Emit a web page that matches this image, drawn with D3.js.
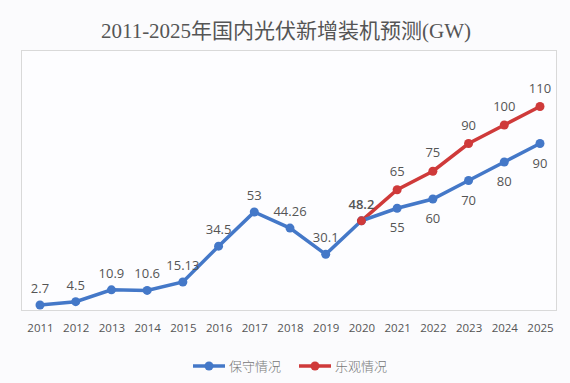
<!DOCTYPE html>
<html>
<head>
<meta charset="utf-8">
<script src="https://cdn.jsdelivr.net/npm/d3@7"></script>
<style>
  body { margin: 0; background: #fbfbfd; }
</style>
</head>
<body>
<div id="chart"></div>
<script>
const years = ["2011","2012","2013","2014","2015","2016","2017","2018","2019","2020","2021","2022","2023","2024","2025"];
const conservative = [2.7, 4.5, 10.9, 10.6, 15.13, 34.5, 53, 44.26, 30.1, 48.2, 55, 60, 70, 80, 90];
const optimisticYears = ["2020","2021","2022","2023","2024","2025"];
const optimistic = [48.2, 65, 75, 90, 100, 110];
const seriesNames = ["保守情况", "乐观情况"];

const width = 570, height = 383;
const blue = "#4478c8", red = "#cf3a3a";

const svg = d3.select("#chart").append("svg")
    .attr("width", width)
    .attr("height", height);

svg.append("text")
    .attr("x", width / 2 + 1)
    .attr("y", 38)
    .attr("text-anchor", "middle")
    .attr("font-family", "'Liberation Serif', 'Noto Sans CJK SC', serif")
    .attr("font-size", 21)
    .attr("fill", "#555")
    .text("2011-2025年国内光伏新增装机预测(GW)");

// plot frame
svg.append("rect")
    .attr("x", 21.5).attr("y", 50.5)
    .attr("width", 535).attr("height", 260)
    .attr("fill", "#fdfdff")
    .attr("stroke", "#d9d9d9");

const x = d3.scalePoint().domain(years).range([40, 540]);
const y = d3.scaleLinear().domain([0, 140]).range([310, 51]);

const xAxis = svg.append("g")
    .attr("transform", "translate(0,310)")
    .call(d3.axisBottom(x).tickSize(0).tickPadding(14));
xAxis.select(".domain").remove();
xAxis.selectAll("text")
    .attr("font-family", "'Open Sans', sans-serif")
    .attr("font-size", 11.5)
    .attr("fill", "#555");

const line = d3.line().x(d => x(d[0])).y(d => y(d[1]));

const blueData = years.map((yr, i) => [yr, conservative[i]]);
const redData = optimisticYears.map((yr, i) => [yr, optimistic[i]]);

svg.append("path")
    .datum(redData)
    .attr("d", line)
    .attr("fill", "none")
    .attr("stroke", red)
    .attr("stroke-width", 3.5);

svg.append("path")
    .datum(blueData)
    .attr("d", line)
    .attr("fill", "none")
    .attr("stroke", blue)
    .attr("stroke-width", 3.5);

svg.selectAll("circle.red")
    .data(redData.slice(1))
    .enter().append("circle")
    .attr("class", "red")
    .attr("cx", d => x(d[0]))
    .attr("cy", d => y(d[1]))
    .attr("r", 4.5)
    .attr("fill", red);

svg.selectAll("circle.blue")
    .data(blueData)
    .enter().append("circle")
    .attr("class", "blue")
    .attr("cx", d => x(d[0]))
    .attr("cy", d => y(d[1]))
    .attr("r", 4.5)
    .attr("fill", blue);

// 2020 point where both series meet is red on top
svg.append("circle")
    .attr("cx", x(redData[0][0]))
    .attr("cy", y(redData[0][1]))
    .attr("r", 4.5)
    .attr("fill", red);

const labelFont = "'Open Sans', sans-serif";

svg.selectAll("text.blab")
    .data(blueData)
    .enter().append("text")
    .attr("class", "blab")
    .attr("x", d => x(d[0]))
    .attr("y", d => +d[0] > 2020 ? y(d[1]) + 24 : y(d[1]) - 12)
    .attr("text-anchor", "middle")
    .attr("font-family", labelFont)
    .attr("font-size", 13)
    .attr("font-weight", d => d[0] === "2020" ? 600 : "normal")
    .attr("fill", "#555")
    .text(d => d[1]);

svg.selectAll("text.rlab")
    .data(redData.slice(1))
    .enter().append("text")
    .attr("class", "rlab")
    .attr("x", d => x(d[0]))
    .attr("y", d => y(d[1]) - 14)
    .attr("text-anchor", "middle")
    .attr("font-family", labelFont)
    .attr("font-size", 13)
    .attr("fill", "#555")
    .text(d => d[1]);

// legend
const legend = svg.append("g").attr("transform", "translate(0,366)");
const legendItems = [{ name: seriesNames[0], color: blue, x0: 193 }, { name: seriesNames[1], color: red, x0: 299 }];
legendItems.forEach(it => {
    legend.append("line")
        .attr("x1", it.x0).attr("x2", it.x0 + 32)
        .attr("y1", 0).attr("y2", 0)
        .attr("stroke", it.color)
        .attr("stroke-width", 3.5);
    legend.append("circle")
        .attr("cx", it.x0 + 16).attr("cy", 0)
        .attr("r", 4.5)
        .attr("fill", it.color);
    legend.append("text")
        .attr("x", it.x0 + 36)
        .attr("y", 5)
        .attr("font-family", "'Noto Sans CJK SC', sans-serif")
        .attr("font-size", 13)
        .attr("font-weight", 300)
        .attr("fill", "#777")
        .text(it.name);
});
</script>
</body>
</html>
